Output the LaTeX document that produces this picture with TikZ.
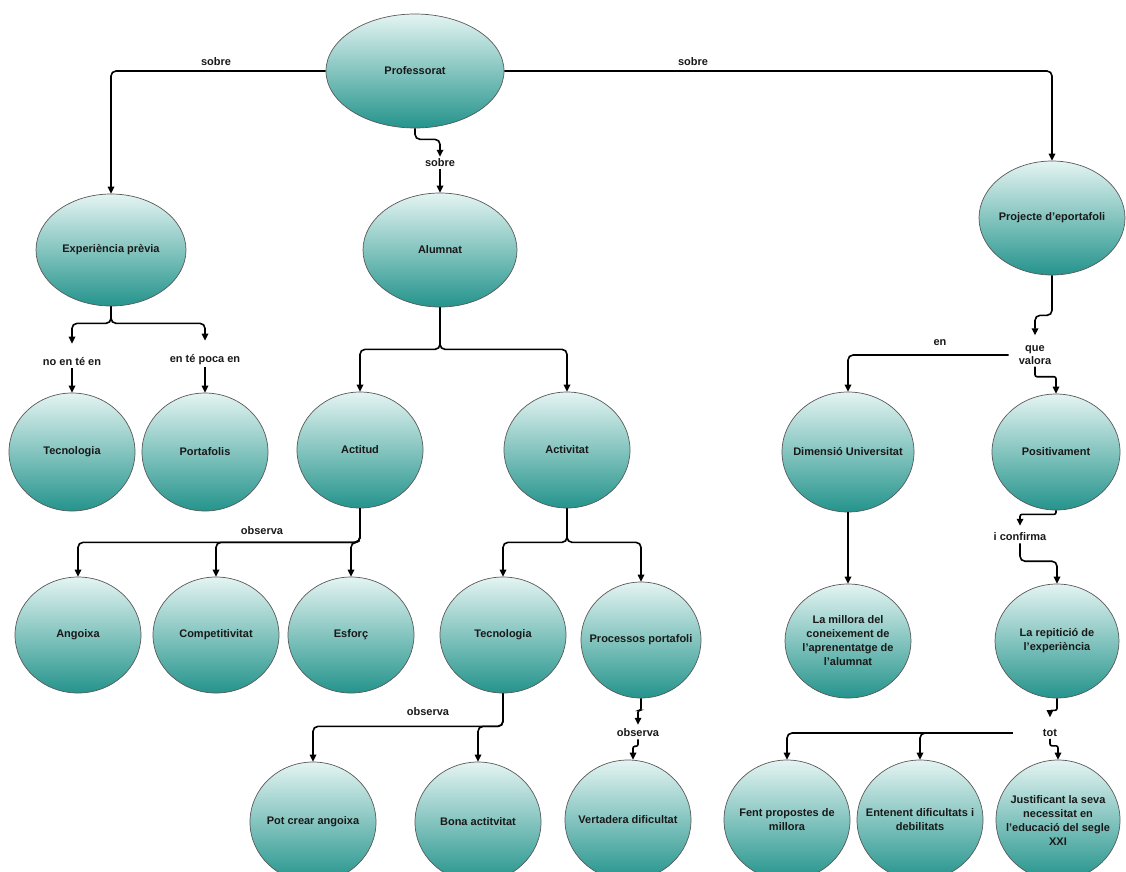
\documentclass[tikz,border=0pt]{standalone}
\usepackage{fontspec}
\setmainfont{Liberation Sans}
\usetikzlibrary{shapes.geometric,arrows.meta}

\definecolor{tealtop}{RGB}{228,244,242}
\definecolor{tealbot}{RGB}{36,148,140}

\tikzset{
  concept/.style={ellipse, draw=black!65, line width=0.7pt, top color=tealtop, bottom color=tealbot,
    font=\bfseries\fontsize{11}{14}\selectfont, text=black!90, align=center, inner xsep=-14pt, inner ysep=0pt,
    minimum width=126pt, minimum height=118pt},
  link/.style={font=\bfseries\fontsize{11}{13}\selectfont, text=black!90, inner sep=2pt, align=center},
  conn/.style={line width=1.6pt, rounded corners=5pt, -{Triangle[length=7pt,width=6.5pt]}},
  jog/.style={conn, rounded corners=2pt}
}

\begin{document}
\begin{tikzpicture}[x=1pt,y=-1pt]
  \useasboundingbox (0,0) rectangle (1126,871);

  \node[concept, minimum width=178pt, minimum height=114pt] (prof) at (415,71) {Professorat};
  \node[concept, minimum width=150pt, minimum height=112pt] (exp) at (111,250) {Experiència prèvia};
  \node[concept, minimum width=154pt, minimum height=114pt] (alum) at (440,250) {Alumnat};
  \node[concept, minimum width=146pt, minimum height=114pt] (proj) at (1052,218) {Projecte d'eportafoli};

  \node[concept] (tec1) at (72,452) {Tecnologia};
  \node[concept] (port) at (205,452) {Portafolis};
  \node[concept, minimum height=116pt] (acti) at (360,450) {Actitud};
  \node[concept, minimum height=116pt] (activ) at (567,450) {Activitat};
  \node[concept, minimum width=132pt, minimum height=120pt] (dim) at (848,452) {Dimensió Universitat};
  \node[concept, minimum width=128pt, minimum height=116pt] (posi) at (1056,452) {Positivament};

  \node[concept, minimum height=116pt] (ango) at (78,635) {Angoixa};
  \node[concept, minimum height=116pt] (comp) at (216,635) {Competitivitat};
  \node[concept, minimum height=116pt] (esf) at (351,635) {Esforç};
  \node[concept, minimum height=116pt] (tec2) at (503,635) {Tecnologia};
  \node[concept, minimum width=120pt, minimum height=116pt] (proc) at (641,640) {Processos portafoli};
  \node[concept, minimum height=114pt] (mill) at (848,641) {La millora del\\coneixement de\\l'aprenentatge de\\l'alumnat};
  \node[concept, minimum width=124pt, minimum height=114pt] (rep) at (1057,641) {La repitició de\\l'experiència};

  \node[concept, minimum height=120pt] (pot) at (313,822) {Pot crear angoixa};
  \node[concept, minimum height=120pt] (bona) at (478,822) {Bona actitvitat};
  \node[concept, minimum height=120pt] (vert) at (628,820) {Vertadera dificultat};
  \node[concept, minimum height=120pt] (fent) at (787,820) {Fent propostes de\\millora};
  \node[concept, minimum height=120pt] (ente) at (920,820) {Entenent dificultats i\\debilitats};
  \node[concept, minimum width=124pt, minimum height=120pt] (just) at (1058,820) {Justificant la seva\\necessitat en\\l'educació del segle\\XXI};

  \node[link] (lsobreL) at (216,62) {sobre};
  \node[link] (lsobreR) at (693,62) {sobre};
  \node[link] (lsobreM) at (440,163) {sobre};
  \node[link] (lno) at (72,362) {no en té en};
  \node[link] (lpoca) at (205,360) {en té poca en};
  \node[link] (lobs1) at (262,531) {observa};
  \node[link] (lobs2) at (428,712) {observa};
  \node[link] (lobs3) at (638,733) {observa};
  \node[link] (len) at (940,343) {en};
  \node[link] (lque) at (1035,355) {que\\valora};
  \node[link] (lconf) at (1020,537) {i confirma};
  \node[link] (ltot) at (1050,733) {tot};

  \draw[conn] (prof.west) -| (exp.north);
  \draw[conn] (prof.east) -| (proj.north);
  \draw[conn] (prof.south) -- ++(0,11) -| (lsobreM.north);
  \draw[conn] (lsobreM.south) -- (alum.north);

  \draw[conn] (exp.south) -- ++(0,17) -| ([yshift=12pt]lno.north);
  \draw[conn] (exp.south) -- ++(0,17) -| ([yshift=12pt]lpoca.north);
  \draw[conn] (lno.south) -- (tec1.north);
  \draw[conn] (lpoca.south) -- (port.north);

  \draw[conn] (alum.south) -- ++(0,42) -| (acti.north);
  \draw[conn] (alum.south) -- ++(0,42) -| (activ.north);

  \draw[conn] (acti.south) -- ++(0,34) -| (ango.north);
  \draw[conn] (acti.south) -- ++(0,34) -| (comp.north);
  \draw[conn] (acti.south) -- ++(0,34) -| (esf.north);

  \draw[conn] (activ.south) -- ++(0,34) -| (tec2.north);
  \draw[conn] (activ.south) -- ++(0,34) -| (proc.north);

  \draw[conn] (tec2.south) -- ++(0,33) -| (pot.north);
  \draw[conn] (tec2.south) -- ++(0,33) -| (bona.north);

  \draw[jog] (proc.south) -- ++(0,12) -| ([yshift=2pt]lobs3.north);
  \draw[jog] (lobs3.south) -- ++(0,7) -| ([xshift=5pt]vert.north);

  \draw[conn] (proj.south) -- ++(0,40) -| ([yshift=8pt]lque.north);
  \draw[conn] ([xshift=-8pt]lque.west) -| (dim.north);
  \draw[jog] (lque.south) -- ++(0,10) -| (posi.north);
  \draw[conn] (dim.south) -- (mill.north);

  \draw[jog] (posi.south) -- ++(0,4) -| ([yshift=5pt]lconf.north);
  \draw[conn] (lconf.south) -- ++(0,18) -| (rep.north);

  \draw[jog] (rep.south) -- ++(0,12) -| ([yshift=10pt]ltot.north);
  \draw[conn] ([xshift=-28pt]ltot.west) -| (fent.north);
  \draw[conn] ([xshift=-28pt]ltot.west) -| (ente.north);
  \draw[jog] (ltot.south) -- ++(0,7) -| (just.north);
\end{tikzpicture}
\end{document}
